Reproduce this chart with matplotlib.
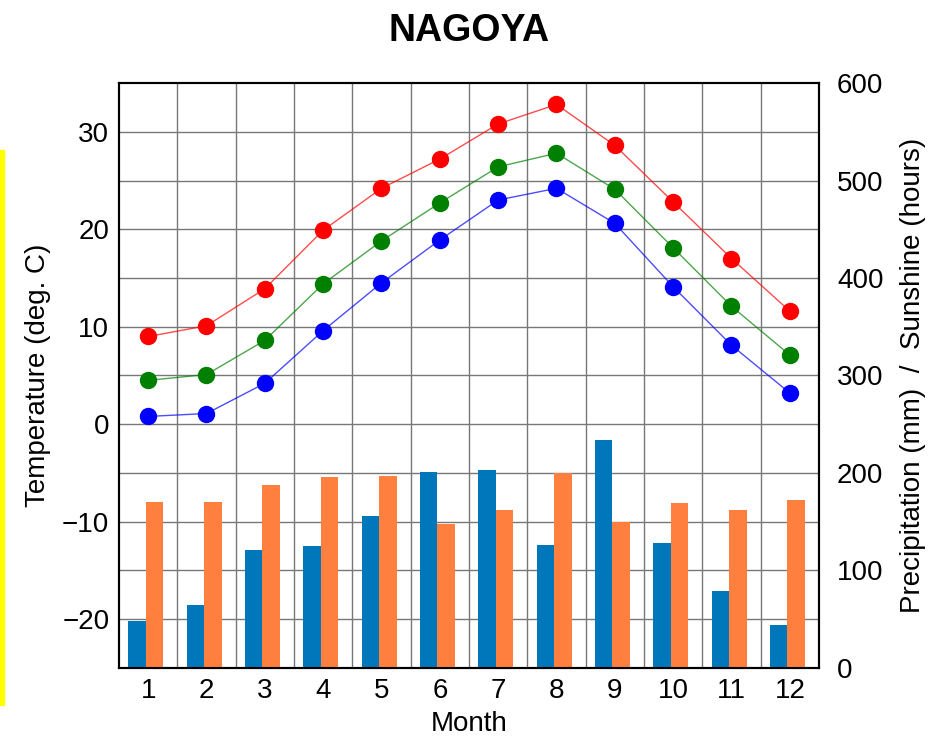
import matplotlib.pyplot as plt
import numpy as np
from matplotlib.patches import Rectangle

plt.rcParams['font.family'] = ['Liberation Sans', 'DejaVu Sans']

months = np.arange(1, 13)
t_max = [9.0, 10.1, 13.9, 19.9, 24.2, 27.2, 30.8, 32.8, 28.6, 22.8, 17.0, 11.6]
t_mean = [4.5, 5.1, 8.6, 14.4, 18.8, 22.7, 26.4, 27.8, 24.1, 18.1, 12.1, 7.1]
t_min = [0.8, 1.1, 4.2, 9.6, 14.5, 18.9, 23.0, 24.2, 20.6, 14.1, 8.1, 3.2]
precip = [48, 65, 121, 125, 156, 201, 203, 126, 234, 128, 79, 44]
sunshine = [170, 170, 188, 196, 197, 148, 162, 200, 150, 169, 162, 172]

fig = plt.figure(figsize=(9.31, 7.38), dpi=100)
ax = fig.add_axes([0.1278, 0.0949, 0.7519, 0.7926])
ax2 = ax.twinx()

# bars on the right-hand scale, temperatures on top of them
ax2.set_zorder(1)
ax.set_zorder(2)
ax.patch.set_visible(False)

ax2.bar(months - 0.19, precip, width=0.3, color='#0077bb', zorder=3)
ax2.bar(months + 0.11, sunshine, width=0.3, color='#ff7f3f', zorder=3)
ax2.set_ylim(0, 600)
ax2.set_yticks(np.arange(0, 700, 100))

for vals, c in [(t_max, 'red'), (t_mean, 'green'), (t_min, 'blue')]:
    ax.plot(months, vals, '-', color=c, linewidth=1, alpha=0.7)
    ax.plot(months, vals, 'o', color=c, markersize=11.5, linestyle='none')

ax.set_xlim(0.5, 12.5)
ax.set_ylim(-25, 35)
ax.set_xticks(months)
ax.set_yticks(np.arange(-20, 35, 10))

# grid every 5 degrees and between months, drawn under the bars
for y in np.arange(-20, 35, 5):
    ax2.axhline(y=(y + 25) * 10, color='#777777', linewidth=1, zorder=1)
for x in np.arange(1.5, 12.5, 1):
    ax2.axvline(x=x, color='#777777', linewidth=1, zorder=1)

for a in (ax, ax2):
    a.tick_params(length=0, labelsize=20, pad=7)
    for s in a.spines.values():
        s.set_linewidth(1.5)
ax2.tick_params(pad=13)

ax.set_xlabel('Month', fontsize=20, labelpad=5)
ax.set_ylabel('Temperature (deg. C)', fontsize=20, labelpad=8)
ax2.set_ylabel('Precipitation (mm)  /  Sunshine (hours)', fontsize=20, labelpad=12)
fig.suptitle('NAGOYA', fontsize=27, fontweight='bold', x=0.504, y=0.983)

fig.patches.append(Rectangle((0, 1 - 705 / 738), 4 / 931, 555 / 738,
                             transform=fig.transFigure, color='yellow'))

fig.savefig('out.png', dpi=100)
